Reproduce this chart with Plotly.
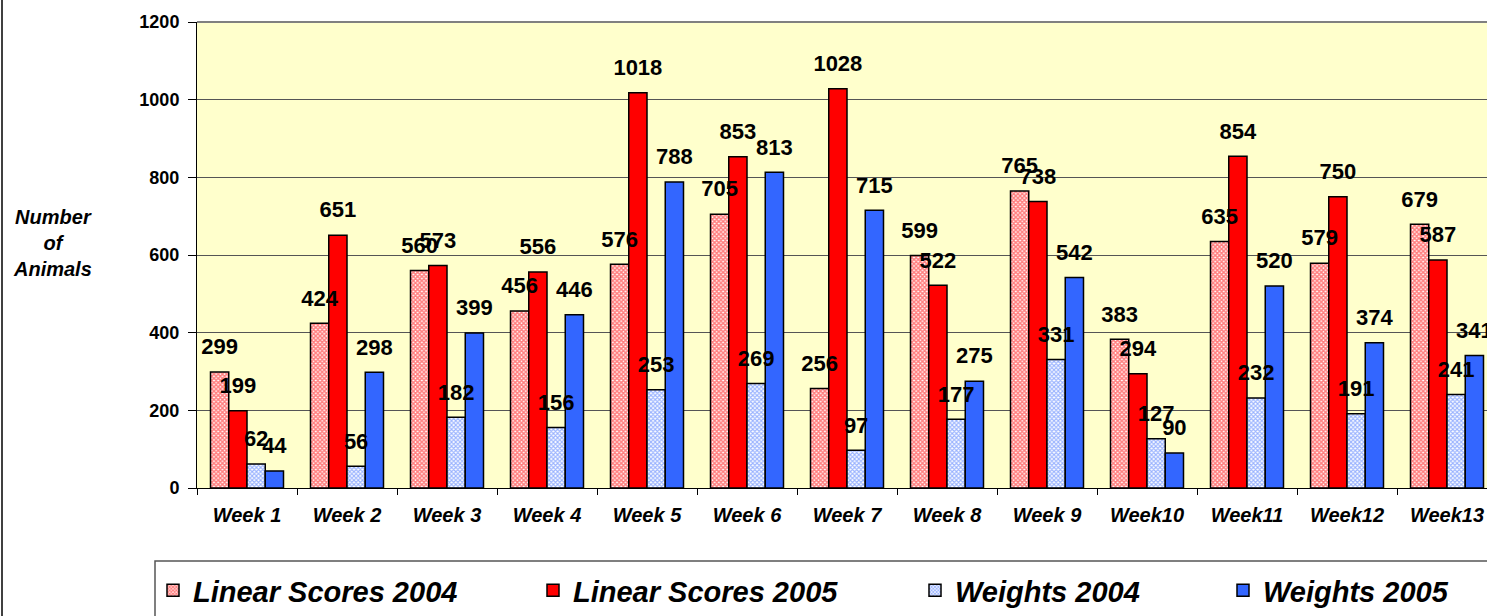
import plotly.graph_objects as go

weeks = ["Week 1", "Week 2", "Week 3", "Week 4", "Week 5", "Week 6", "Week 7",
         "Week 8", "Week 9", "Week10", "Week11", "Week12", "Week13"]
linear_2004 = [299, 424, 560, 456, 576, 705, 256, 599, 765, 383, 635, 579, 679]
linear_2005 = [199, 651, 573, 556, 1018, 853, 1028, 522, 738, 294, 854, 750, 587]
weights_2004 = [62, 56, 182, 156, 253, 269, 97, 177, 331, 127, 232, 191, 241]
weights_2005 = [44, 298, 399, 446, 788, 813, 715, 275, 542, 90, 520, 374, 341]
y_ticks = [0, 200, 400, 600, 800, 1000, 1200]

W, H = 1487, 616
L, R, T, B = 197, 0, 22, 128
pw = W - L - R
ph = H - T - B


def px_x(x):
    return (x - L) / pw


def px_y(y):
    return (H - B - y) / ph


FONT = "Arial, Liberation Sans, sans-serif"
lab_font = dict(family=FONT, size=22, color="black", weight="bold")
line = dict(color="black", width=1.5)

series = [
    ("Linear Scores 2004", linear_2004,
     dict(color="white", line=line,
          pattern=dict(shape="x", fgcolor="#FF0000", bgcolor="white", size=3, solidity=0.75)),
     "legend", "g1"),
    ("Linear Scores 2005", linear_2005, dict(color="#FF0000", line=line), "legend2", "g2"),
    ("Weights 2004", weights_2004,
     dict(color="white", line=line,
          pattern=dict(shape="x", fgcolor="#3366FF", bgcolor="white", size=3, solidity=0.6)),
     "legend3", "g3"),
    ("Weights 2005", weights_2005, dict(color="#3366FF", line=line), "legend4", "g4"),
]

fig = go.Figure()
for name, vals, marker, leg, grp in series:
    fig.add_trace(go.Bar(
        name=name, x=weeks, y=vals, marker=marker, legend=leg, offsetgroup=grp))
for name, vals, marker, leg, grp in series:
    fig.add_trace(go.Scatter(
        x=weeks, y=vals, mode="markers+text", text=[str(v) for v in vals],
        marker=dict(size=18, color="rgba(0,0,0,0)"),
        textposition="top center", textfont=lab_font, offsetgroup=grp,
        showlegend=False, cliponaxis=False, hoverinfo="skip"))

n = len(weeks)
x_end = -0.5 + n * pw / 1300.0

leg_font = dict(family=FONT, size=29, color="black", weight="bold", style="italic")
leg_text_x = [193, 573, 955, 1263]


def leg(i):
    return dict(orientation="h", x=px_x(leg_text_x[i] - 40), y=px_y(591),
                xanchor="left", yanchor="middle", font=leg_font,
                bgcolor="rgba(0,0,0,0)", borderwidth=0)


fig.update_layout(
    width=W, height=H,
    margin=dict(l=L, r=R, t=T, b=B, pad=0),
    paper_bgcolor="white", plot_bgcolor="#FFFFCC",
    barmode="group", bargap=0.27, bargroupgap=0,
    scattermode="group", scattergap=0.27,
    font=dict(family=FONT, color="black"),
    showlegend=True,
    legend=leg(0), legend2=leg(1), legend3=leg(2), legend4=leg(3),
    xaxis=dict(range=[-0.5, x_end], showline=True, linecolor="black", linewidth=1,
               ticks="outside", ticklen=6, tickcolor="black", tickson="boundaries",
               ticklabelstandoff=9,
               tickfont=dict(family=FONT, size=20, color="black",
                             weight="bold", style="italic"),
               showgrid=False, fixedrange=True),
    yaxis=dict(range=[0, 1200], tickvals=y_ticks, showline=True, linecolor="black", linewidth=1,
               ticks="outside", ticklen=8, tickcolor="black", ticklabelstandoff=5,
               tickfont=dict(family=FONT, size=18, color="black", weight="bold"),
               showgrid=True, gridcolor="#555555", gridwidth=1, zeroline=False, fixedrange=True),
    annotations=[dict(text="<b><i>Number<br>of<br>Animals</i></b>", xref="paper", yref="paper",
                      x=px_x(52), y=px_y(243), xanchor="center", yanchor="middle",
                      showarrow=False, align="center",
                      font=dict(family=FONT, size=20, color="black"))],
    shapes=[
        dict(type="line", xref="paper", yref="paper", x0=0, x1=1, y0=1, y1=1,
             line=dict(color="#808080", width=2)),
        dict(type="rect", xref="paper", yref="paper", x0=px_x(155), x1=px_x(1500),
             y0=px_y(625), y1=px_y(561),
             line=dict(color="#555555", width=1.5)),
        dict(type="line", xref="paper", yref="paper", x0=px_x(2), x1=px_x(2),
             y0=px_y(620), y1=px_y(-5),
             line=dict(color="black", width=1.5)),
    ],
)
fig.write_html("out.html", config={"displayModeBar": False},
               post_script="document.body.style.margin='0px';")
